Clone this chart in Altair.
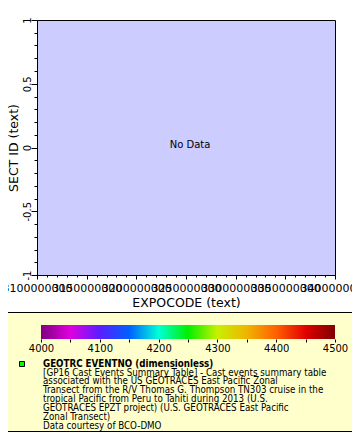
import altair as alt
import pandas as pd

# ---- data / tick arrays ----
x_major = [3100000000, 3150000000, 3200000000, 3250000000, 3300000000, 3350000000, 3400000000]
x_minor = list(range(3100000000, 3400000001, 10000000))
y_major = [-1, -0.5, 0, 0.5, 1]
y_minor = [-1.0, -0.9, -0.8, -0.7, -0.6, -0.5, -0.4, -0.3, -0.2, -0.1, 0.0,
           0.1, 0.2, 0.3, 0.4, 0.5, 0.6, 0.7, 0.8, 0.9, 1.0]
cb_ticks = [4000, 4050, 4100, 4150, 4200, 4250, 4300, 4350, 4400, 4450, 4500]
cb_colors = ["#7f007f", "#e000e0", "#5a1eff", "#0060ff", "#00ffd8", "#00f000",
             "#c8f000", "#f0b400", "#ff6000", "#e00000", "#800000"]
legend_title = "GEOTRC EVENTNO (dimensionless)"
legend_lines = [
    "[GP16 Cast Events Summary Table] - Cast events summary table",
    "associated with the US GEOTRACES East Pacific Zonal",
    "Transect from the R/V Thomas G. Thompson TN303 cruise in the",
    "tropical Pacific from Peru to Tahiti during 2013 (U.S.",
    "GEOTRACES EPZT project) (U.S. GEOTRACES East Pacific",
    "Zonal Transect)",
    "Data courtesy of BCO-DMO",
]

W, H = 298, 255
FONT = "DejaVu Sans"
LFONT = "DejaVu Sans Condensed"

point = pd.DataFrame({"x": [3250000000], "y": [0.0], "label": ["No Data"]})
cb = pd.DataFrame({"lo": [cb_ticks[0]], "hi": [cb_ticks[-1]]})
one = pd.DataFrame({"a": [0]})

xscale = alt.Scale(domain=[x_major[0], x_major[-1]], nice=False, zero=False)
yscale = alt.Scale(domain=[-1, 1], nice=False, zero=False)

common = dict(domain=False, grid=False, tickColor="black", labelColor="black",
              titleColor="black", zindex=1, labelFont=FONT, titleFont=FONT)

main = alt.Chart(point).mark_text(
    font=FONT, fontSize=10, color="black", dx=4, align="center", baseline="alphabetic"
).encode(
    x=alt.X("x:Q", scale=xscale, axis=alt.Axis(
        values=x_major, labelExpr="'' + datum.value", labelOverlap=False,
        labelFlush=False, labelBound=False, tickSize=4, labelFontSize=11,
        labelPadding=3, title="EXPOCODE (text)", titleFontSize=12.5,
        titleFontWeight="normal", titleY=27, titleBaseline="middle",
        orient="bottom", **common)),
    y=alt.Y("y:Q", scale=yscale, axis=alt.Axis(
        values=y_major, labelExpr="'' + datum.value", labelOverlap=False,
        labelFlush=False, labelBound=False, labelAngle=270, labelAlign="center",
        labelBaseline="alphabetic", tickSize=6, labelFontSize=10, labelPadding=1,
        title="SECT ID (text)", titleFontSize=12.5, titleFontWeight="normal",
        titleX=-24, titleBaseline="middle", orient="left", **common)),
    text="label:N",
)

minor = alt.Chart(point).mark_point(opacity=0).encode(
    x=alt.X("x:Q", scale=xscale, axis=alt.Axis(
        values=x_minor, labels=False, tickSize=2, title=None, orient="bottom", **common)),
    y=alt.Y("y:Q", scale=yscale, axis=alt.Axis(
        values=y_minor, labels=False, tickSize=3, title=None, orient="left", **common)),
)

box = alt.Chart(one).mark_rect(fill="#ffffcc", stroke="black", strokeWidth=1).encode(
    x=alt.value(-35.5), x2=alt.value(320.5), y=alt.value(292.5), y2=alt.value(411.5)
)

lo, hi = cb_ticks[0], cb_ticks[-1]
gradient = alt.Gradient(
    gradient="linear",
    stops=[alt.GradientStop(color=c, offset=(v - lo) / (hi - lo)) for v, c in zip(cb_ticks, cb_colors)],
    x1=0, x2=1, y1=0, y2=0,
)

colorbar = alt.Chart(cb).mark_rect(fill=gradient).encode(
    x=alt.X("lo:Q", scale=alt.Scale(domain=[lo, hi], range=[4, 298], nice=False, zero=False),
            axis=alt.Axis(values=cb_ticks,
                          labelExpr="datum.value % 100 == 0 ? '' + datum.value : ''",
                          labelOverlap=False, labelFlush=False, labelBound=False,
                          tickSize=3, labelFontSize=10, labelPadding=1, offset=64,
                          orient="bottom", title=None, **common)),
    x2="hi:Q",
    y=alt.value(305), y2=alt.value(319),
)

square = alt.Chart(one).mark_rect(fill="#00ff00", stroke="black", strokeWidth=1).encode(
    x=alt.value(-17.5), x2=alt.value(-12.5), y=alt.value(341.5), y2=alt.value(346.5)
)

title_txt = alt.Chart(one).mark_text(
    font=LFONT, fontWeight="bold", fontSize=9.7, align="left", baseline="alphabetic", color="black"
).encode(x=alt.value(6), y=alt.value(346.6), text=alt.value(legend_title))

body_txt = alt.Chart(one).mark_text(
    font=LFONT, fontSize=9.7, align="left", baseline="alphabetic", color="black", lineHeight=8.9
).encode(x=alt.value(6), y=alt.value(355.5), text=alt.value(legend_lines))

chart = alt.layer(box, colorbar, square, title_txt, body_txt, main, minor).resolve_scale(
    x="independent", y="independent"
).properties(
    width=W, height=H,
    autosize=alt.AutoSizeParams(type="none"),
    padding={"left": 29, "top": 12, "right": 17, "bottom": 157},
).configure_view(fill="#ccccff", stroke="black", strokeWidth=1)

chart.save("out.html", embed_options={"renderer": "svg", "actions": False})
